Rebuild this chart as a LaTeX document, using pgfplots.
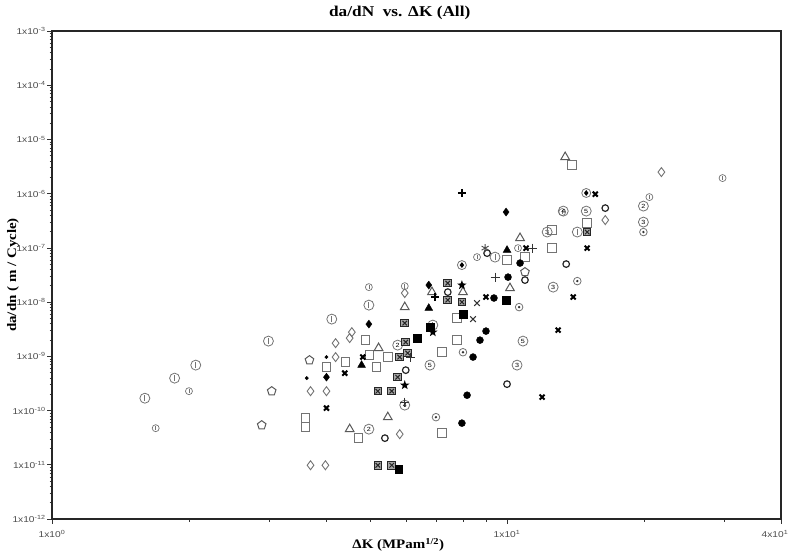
\documentclass[border=0pt]{standalone}
\usepackage{fontspec}
\setmainfont{Liberation Serif}
\newfontfamily\tickfont[FakeStretch=1.2]{Liberation Sans}
\newfontfamily\labfont[FakeStretch=1.15]{Liberation Serif}
\usepackage{pgfplots}
\pgfplotsset{compat=1.18}

% circle with a bar
\pgfdeclareplotmark{cbar}{%
  \pgfpathcircle{\pgfpointorigin}{\pgfplotmarksize}\pgfusepathqstroke
  \pgfpathmoveto{\pgfqpoint{0pt}{0.6\pgfplotmarksize}}%
  \pgfpathlineto{\pgfqpoint{0pt}{-0.6\pgfplotmarksize}}\pgfusepathqstroke}
\newcommand\cdigmark[2]{%
  \pgfdeclareplotmark{#1}{%
    \pgfpathcircle{\pgfpointorigin}{\pgfplotmarksize}\pgfusepathqstroke
    \pgftext{\tickfont\fontsize{6}{6}\selectfont #2}}}
\cdigmark{c2}{2}\cdigmark{c3}{3}\cdigmark{c4}{4}\cdigmark{c5}{5}
% circle with dot
\pgfdeclareplotmark{cdot}{%
  \pgfpathcircle{\pgfpointorigin}{\pgfplotmarksize}\pgfusepathqstroke
  \pgfpathcircle{\pgfpointorigin}{0.35\pgfplotmarksize}\pgfusepathqfill}
% circle with filled diamond
\pgfdeclareplotmark{cin}{%
  \pgfpathcircle{\pgfpointorigin}{\pgfplotmarksize}\pgfusepathqstroke
  \pgfpathmoveto{\pgfqpoint{0pt}{0.65\pgfplotmarksize}}%
  \pgfpathlineto{\pgfqpoint{0.5\pgfplotmarksize}{0pt}}%
  \pgfpathlineto{\pgfqpoint{0pt}{-0.65\pgfplotmarksize}}%
  \pgfpathlineto{\pgfqpoint{-0.5\pgfplotmarksize}{0pt}}%
  \pgfpathclose\pgfusepathqfill}
% square with cross
\pgfdeclareplotmark{sqx}{%
  \pgfpathrectangle{\pgfqpoint{-\pgfplotmarksize}{-\pgfplotmarksize}}{\pgfqpoint{2\pgfplotmarksize}{2\pgfplotmarksize}}%
  \pgfusepathqfillstroke
  \pgfpathmoveto{\pgfqpoint{-0.6\pgfplotmarksize}{-0.6\pgfplotmarksize}}%
  \pgfpathlineto{\pgfqpoint{0.6\pgfplotmarksize}{0.6\pgfplotmarksize}}%
  \pgfpathmoveto{\pgfqpoint{-0.6\pgfplotmarksize}{0.6\pgfplotmarksize}}%
  \pgfpathlineto{\pgfqpoint{0.6\pgfplotmarksize}{-0.6\pgfplotmarksize}}%
  \pgfusepathqstroke}
% filled five point star
\pgfdeclareplotmark{fstar}{%
  \pgfpathmoveto{\pgfqpoint{0pt}{\pgfplotmarksize}}%
  \pgfpathlineto{\pgfqpoint{-0.235\pgfplotmarksize}{0.324\pgfplotmarksize}}%
  \pgfpathlineto{\pgfqpoint{-0.951\pgfplotmarksize}{0.309\pgfplotmarksize}}%
  \pgfpathlineto{\pgfqpoint{-0.380\pgfplotmarksize}{-0.124\pgfplotmarksize}}%
  \pgfpathlineto{\pgfqpoint{-0.588\pgfplotmarksize}{-0.809\pgfplotmarksize}}%
  \pgfpathlineto{\pgfqpoint{0pt}{-0.4\pgfplotmarksize}}%
  \pgfpathlineto{\pgfqpoint{0.588\pgfplotmarksize}{-0.809\pgfplotmarksize}}%
  \pgfpathlineto{\pgfqpoint{0.380\pgfplotmarksize}{-0.124\pgfplotmarksize}}%
  \pgfpathlineto{\pgfqpoint{0.951\pgfplotmarksize}{0.309\pgfplotmarksize}}%
  \pgfpathlineto{\pgfqpoint{0.235\pgfplotmarksize}{0.324\pgfplotmarksize}}%
  \pgfpathclose\pgfusepathqfill}

\colorlet{gmark}{black!55}

\begin{document}
\begin{tikzpicture}
\begin{axis}[
  scale only axis,
  width=729pt, height=488pt,
  xmode=log, ymode=log,
  xmin=1, xmax=40, ymin=1e-12, ymax=1e-3,
  xtick={1,10,40},
  xticklabels={1x10\textsuperscript{0},1x10\textsuperscript{1},{\hspace*{-12pt}4x10\textsuperscript{1}}},
  minor xtick={2,3,4,5,6,7,8,9,20,30},
  ytick={1e-12,1e-11,1e-10,1e-9,1e-8,1e-7,1e-6,1e-5,1e-4,1e-3},
  yticklabels={1x10\textsuperscript{-12},1x10\textsuperscript{-11},1x10\textsuperscript{-10},1x10\textsuperscript{-9},
    1x10\textsuperscript{-8},1x10\textsuperscript{-7},1x10\textsuperscript{-6},1x10\textsuperscript{-5},
    1x10\textsuperscript{-4},1x10\textsuperscript{-3}},
  minor ytick={2e-12,3e-12,4e-12,5e-12,6e-12,7e-12,8e-12,9e-12,
    2e-11,3e-11,4e-11,5e-11,6e-11,7e-11,8e-11,9e-11,
    2e-10,3e-10,4e-10,5e-10,6e-10,7e-10,8e-10,9e-10,
    2e-9,3e-9,4e-9,5e-9,6e-9,7e-9,8e-9,9e-9,
    2e-8,3e-8,4e-8,5e-8,6e-8,7e-8,8e-8,9e-8,
    2e-7,3e-7,4e-7,5e-7,6e-7,7e-7,8e-7,9e-7,
    2e-6,3e-6,4e-6,5e-6,6e-6,7e-6,8e-6,9e-6,
    2e-5,3e-5,4e-5,5e-5,6e-5,7e-5,8e-5,9e-5,
    2e-4,3e-4,4e-4,5e-4,6e-4,7e-4,8e-4,9e-4},
  tick align=outside,
  tick pos=left,
  major tick length=5pt,
  minor tick length=2.5pt,
  every tick/.style={black!80, line width=0.6pt},
  axis line style={line width=1.3pt, black!85},
  ticklabel style={font=\tickfont\fontsize{8.5}{8.5}\selectfont, text=black!70},
  yticklabel style={xshift=2pt},
  xticklabel style={yshift=-3pt},
  title={da/dN\ \ vs. ΔK (All)},
  title style={at={(axis description cs:0.477,1)}, anchor=center, yshift=12pt,
    font=\labfont\bfseries\fontsize{15}{15}\selectfont},
  xlabel={ΔK (MPam\textsuperscript{1/2})},
  xlabel style={at={(axis description cs:0.475,0)}, anchor=center, yshift=-26pt,
    font=\labfont\bfseries\fontsize{13}{13}\selectfont},
  ylabel={da/dn ( m / Cycle)},
  ylabel style={at={(axis description cs:-0.0535,0.5)}, anchor=center,
    font=\labfont\bfseries\fontsize{13}{13}\selectfont},
]
% large circled
\addplot[only marks, mark=cbar, mark size=5pt, mark options={draw=gmark, line width=0.8pt}] coordinates {
  (1.6,1.69e-10) (1.86,3.96e-10) (2.07,6.89e-10) (2.99,1.91e-9) (4.12,4.86e-9)
  (4.97,8.8e-9) (6.87,3.77e-9) (9.41,6.76e-8) (14.27,1.96e-7)
};
% small circled
\addplot[only marks, mark=cbar, mark size=3.5pt, mark options={draw=gmark, line width=0.7pt}] coordinates {
  (1.69,4.73e-11) (2.0,2.28e-10) (4.97,1.89e-8) (5.96,1.97e-8) (8.59,6.76e-8)
  (20.55,8.65e-7) (29.76,1.94e-6) (10.57,9.9e-8) (13.22,4.58e-7)
};
\addplot[only marks, mark=c5, mark size=5pt, mark options={draw=gmark, line width=0.8pt}, gmark] coordinates {
  (6.77,6.89e-10) (10.84,1.91e-9) (14.93,4.77e-7)
};
\addplot[only marks, mark=c3, mark size=5pt, mark options={draw=gmark, line width=0.8pt}, gmark] coordinates {
  (10.52,6.89e-10) (12.63,1.89e-8) (12.25,1.96e-7) (19.94,2.99e-7)
};
\addplot[only marks, mark=c4, mark size=5pt, mark options={draw=gmark, line width=0.8pt}, gmark] coordinates {
  (13.29,4.77e-7) (5.96,1.26e-10)
};
\addplot[only marks, mark=c2, mark size=5pt, mark options={draw=gmark, line width=0.8pt}, gmark] coordinates {
  (19.94,5.9e-7) (4.97,4.54e-11) (5.75,1.61e-9)
};
% circled dot
\addplot[only marks, mark=cdot, mark size=3.8pt, mark options={draw=gmark, fill=black!80, line width=0.8pt}] coordinates {
  (8.0,1.19e-9) (6.98,7.55e-11) (10.63,8.09e-9) (14.27,2.44e-8) (19.94,1.96e-7)
};
% circled filled symbol
\addplot[only marks, mark=cin, mark size=4.5pt, mark options={draw=gmark, fill=black, line width=0.8pt}] coordinates {
  (7.96,4.82e-8) (14.93,1.03e-6)
};
% bold open circles
\addplot[only marks, mark=o, mark size=3.3pt, mark options={draw=black!85, line width=1.2pt}] coordinates {
  (5.39,3.1e-11) (10.0,3.07e-10) (13.49,5.03e-8) (16.44,5.42e-7) (10.95,2.55e-8)
  (7.41,1.53e-8) (5.99,5.56e-10) (9.04,8.0e-8)
};
% open diamonds
\addplot[only marks, mark=diamond, mark size=4.5pt, mark options={draw=gmark, line width=0.9pt}] coordinates {
  (3.70,2.28e-10) (4.01,2.28e-10) (3.70,9.8e-12) (3.99,9.8e-12) (4.20,1.75e-9)
  (4.51,2.17e-9) (4.56,2.79e-9) (4.20,9.7e-10) (5.81,3.67e-11) (5.96,1.47e-8)
  (21.84,2.5e-6) (16.44,3.26e-7)
};
% filled diamonds
\addplot[only marks, mark=diamond*, mark size=4pt, mark options={draw=black, fill=black}] coordinates {
  (4.01,4.13e-10) (4.97,3.93e-9) (6.73,2.06e-8) (9.95,4.58e-7)
};
% open squares
\addplot[only marks, mark=square, mark size=4.3pt, mark options={draw=gmark, line width=1pt}] coordinates {
  (3.61,7.24e-11) (3.61,4.94e-11) (4.01,6.32e-10) (4.42,7.8e-10) (4.89,1.99e-9)
  (4.99,1.05e-9) (5.47,9.7e-10) (5.17,6.32e-10) (4.72,3.1e-11) (7.19,3.83e-11)
  (7.19,1.19e-9) (7.76,1.99e-9) (7.76,5.07e-9) (10.0,5.96e-8) (10.95,6.76e-8)
  (12.57,9.9e-8) (12.57,2.13e-7) (15.0,2.87e-7) (13.91,3.37e-6)
};
% open triangles
\addplot[only marks, mark=triangle, mark size=5pt, mark options={draw=black!65, line width=1pt}] coordinates {
  (5.96,8.09e-9) (6.84,1.53e-8) (8.0,1.53e-8) (5.22,1.42e-9) (4.51,4.54e-11)
  (5.47,7.55e-11) (10.68,1.52e-7) (13.42,4.73e-6) (10.15,1.81e-8)
};
% filled triangles
\addplot[only marks, mark=triangle*, mark size=4.5pt, mark options={draw=black, fill=black}] coordinates {
  (6.73,7.75e-9) (4.79,6.89e-10) (10.0,9.1e-8)
};
% crossed squares
\addplot[only marks, mark=sqx, mark size=3.8pt, mark options={draw=black!85, fill=black!35, line width=1pt}] coordinates {
  (7.41,2.24e-8) (7.41,1.09e-8) (7.96,1.0e-8) (5.96,4.1e-9) (5.99,1.83e-9)
  (6.05,1.15e-9) (5.81,9.7e-10) (5.75,4.13e-10) (5.2,2.28e-10) (5.58,2.28e-10)
  (5.2,9.8e-12) (5.58,9.8e-12) (15.0,1.96e-7)
};
% filled squares
\addplot[only marks, mark=square*, mark size=3.8pt, mark options={draw=black, fill=black}] coordinates {
  (8.0,6.0e-9) (6.77,3.46e-9) (6.34,2.17e-9) (5.78,8.3e-12) (9.95,1.09e-8)
};
% filled circles
\addplot[only marks, mark=*, mark size=3.5pt, mark options={draw=black, fill=black}] coordinates {
  (8.99,2.92e-9) (8.72,1.99e-9) (8.42,9.7e-10) (8.17,1.92e-10) (7.96,5.86e-11)
  (10.68,5.25e-8) (10.05,2.89e-8) (9.36,1.19e-8)
};
% bold crosses
\addplot[only marks, mark=x, mark size=3.5pt, mark options={draw=black, line width=2pt}] coordinates {
  (4.82,9.7e-10) (4.40,4.9e-10) (4.01,1.11e-10) (8.99,1.24e-8) (11.01,9.9e-8)
  (13.98,1.24e-8) (12.95,3.04e-9) (11.94,1.77e-10) (15.0,9.9e-8) (15.63,9.8e-7)
};
% thin crosses
\addplot[only marks, mark=x, mark size=4pt, mark options={draw=black!80, line width=1pt}] coordinates {
  (8.59,9.6e-9) (8.42,4.86e-9)
};
% plus
\addplot[only marks, mark=+, mark size=4.5pt, mark options={draw=black!80, line width=1pt}] coordinates {
  (9.41,2.89e-8) (6.15,9.7e-10) (5.96,1.43e-10) (11.35,9.9e-8)
};
% filled stars
\addplot[only marks, mark=fstar, mark size=5pt, mark options={draw=black, fill=black}] coordinates {
  (7.96,2.06e-8) (6.87,2.79e-9) (5.96,2.94e-10)
};
% small dots
\addplot[only marks, mark=*, mark size=1.7pt, mark options={draw=black, fill=black}] coordinates {
  (3.63,3.96e-10) (4.01,9.7e-10)
};
% pentagons
\addplot[only marks, mark=pentagon, mark size=4.5pt, mark options={draw=black!65, line width=1pt}] coordinates {
  (2.89,5.38e-11) (3.04,2.28e-10) (3.68,8.5e-10) (10.95,3.58e-8)
};
% bold plus
\addplot[only marks, mark=+, mark size=4pt, mark options={draw=black, line width=2pt}] coordinates {
  (6.94,1.24e-8) (7.96,1.03e-6)
};
% asterisk
\addplot[only marks, mark=asterisk, mark size=4pt, mark options={draw=black!70, line width=0.9pt}] coordinates {
  (8.95,9.9e-8)
};
\end{axis}
\pgfresetboundingbox
\useasboundingbox (-52pt,-37pt) rectangle (740pt,519pt);
\end{tikzpicture}
\end{document}
